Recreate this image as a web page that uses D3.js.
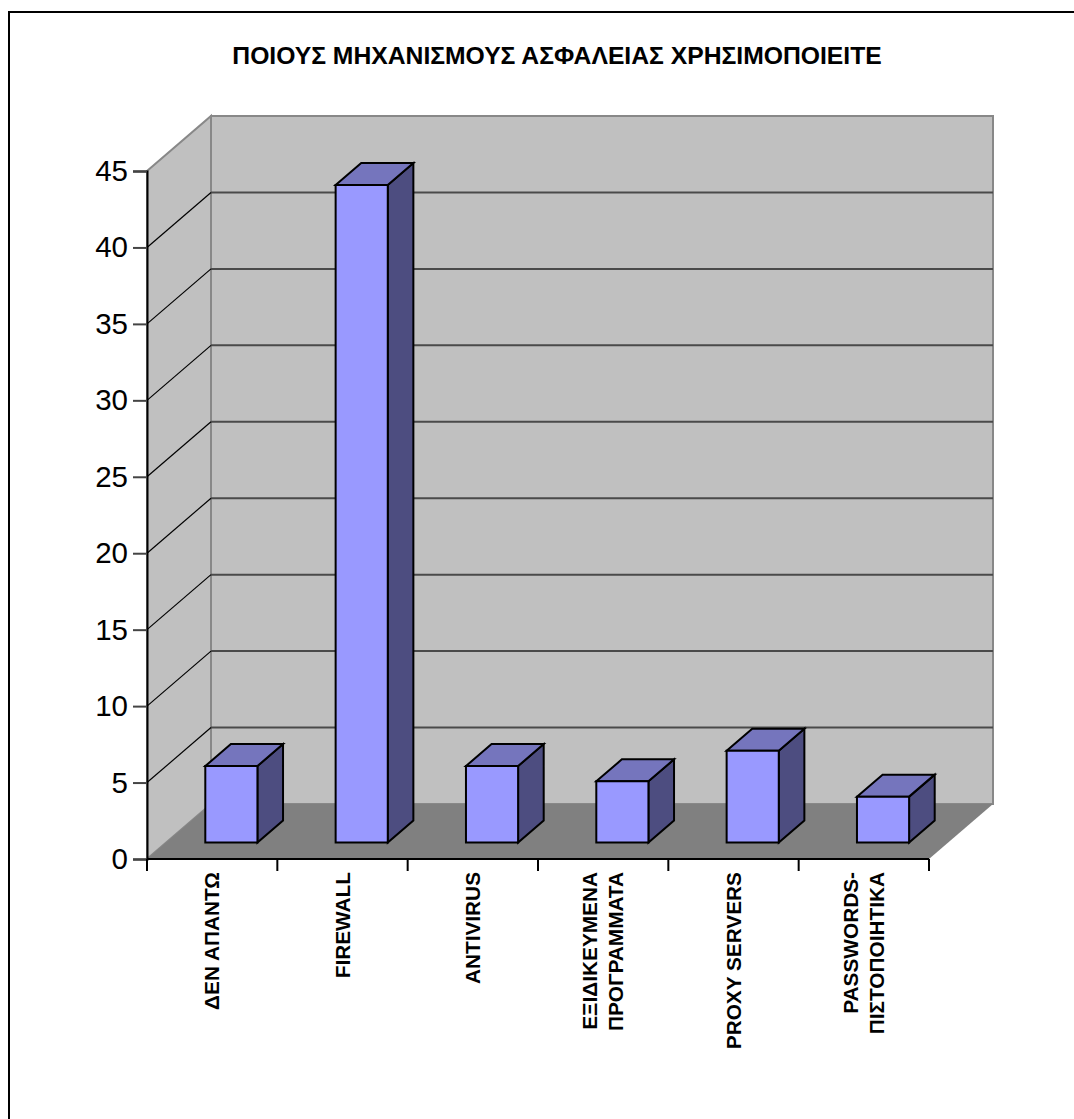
<!DOCTYPE html>
<html>
<head>
<meta charset="utf-8">
<script src="https://cdn.jsdelivr.net/npm/d3@7"></script>
<style>
  html, body { margin: 0; padding: 0; background: #ffffff; }
  svg { display: block; }
  text { font-family: "Liberation Sans", Arial, sans-serif; }
</style>
</head>
<body>
<svg id="chart" width="1074" height="1119"></svg>
<script>
// ---- data ----
const title = "ΠΟΙΟΥΣ ΜΗΧΑΝΙΣΜΟΥΣ ΑΣΦΑΛΕΙΑΣ ΧΡΗΣΙΜΟΠΟΙΕΙΤΕ";
const categories = ["ΔΕΝ ΑΠΑΝΤΩ", "FIREWALL", "ANTIVIRUS", "ΕΞΙΔΙΚΕΥΜΕΝΑ ΠΡΟΓΡΑΜΜΑΤΑ", "PROXY SERVERS", "PASSWORDS- ΠΙΣΤΟΠΟΙΗΤΙΚΑ"];
const categoryLines = [["ΔΕΝ ΑΠΑΝΤΩ"], ["FIREWALL"], ["ANTIVIRUS"], ["ΕΞΙΔΙΚΕΥΜΕΝΑ", "ΠΡΟΓΡΑΜΜΑΤΑ"], ["PROXY SERVERS"], ["PASSWORDS-", "ΠΙΣΤΟΠΟΙΗΤΙΚΑ"]];
const values = [5, 43, 5, 4, 6, 3];
const yTicks = [0, 5, 10, 15, 20, 25, 30, 35, 40, 45];

// ---- layout ----
(function () {
const svg = d3.select("#chart");
const pLeft = 147, pRight = 929, pBottom = 859, pTop = 171;
const DX = 64, DY = 55;           // depth offset of the back wall
const d0 = 0.3, d1 = 0.7;          // bar depth range

const x = d3.scaleBand().domain(categories).range([pLeft, pRight]).paddingInner(0.6).paddingOuter(0.3);
const edge = d3.scaleLinear().domain([0, categories.length]).range([pLeft, pRight]);
const y = d3.scaleLinear().domain([0, 45]).range([pBottom, pTop]);

const P = (px, py, d) => [px + DX * d, py - DY * d];
const poly = pts => pts.map(p => p.join(",")).join(" ");

// outer frame
svg.append("rect").attr("x", 9).attr("y", 12).attr("width", 1200).attr("height", 1200)
  .attr("fill", "none").attr("stroke", "#000").attr("stroke-width", 2);

// title
svg.append("text").attr("x", 557).attr("y", 64).attr("text-anchor", "middle")
  .attr("font-size", 24.7).attr("font-weight", "bold").attr("fill", "#000").text(title);

// back wall
svg.append("polygon")
  .attr("points", poly([P(pLeft, y(45), 1), P(pRight, y(45), 1), P(pRight, y(0), 1), P(pLeft, y(0), 1)]))
  .attr("fill", "#c0c0c0").attr("stroke", "#888").attr("stroke-width", 2);
// left wall
svg.append("polygon")
  .attr("points", poly([P(pLeft, y(45), 0), P(pLeft, y(45), 1), P(pLeft, y(0), 1), P(pLeft, y(0), 0)]))
  .attr("fill", "#c0c0c0").attr("stroke", "#888").attr("stroke-width", 2);

// gridlines
const inner = yTicks.filter(v => v > 0 && v < 45);
svg.append("g").selectAll("line").data(inner).join("line")
  .attr("x1", v => P(pLeft, y(v), 1)[0]).attr("y1", v => P(pLeft, y(v), 1)[1])
  .attr("x2", v => P(pRight, y(v), 1)[0]).attr("y2", v => P(pRight, y(v), 1)[1])
  .attr("stroke", "#4a4a4a").attr("stroke-width", 2);
svg.append("g").selectAll("line").data(inner).join("line")
  .attr("x1", v => P(pLeft, y(v), 0)[0]).attr("y1", v => P(pLeft, y(v), 0)[1])
  .attr("x2", v => P(pLeft, y(v), 1)[0]).attr("y2", v => P(pLeft, y(v), 1)[1])
  .attr("stroke", "#000").attr("stroke-width", 1.2);

// floor
svg.append("polygon")
  .attr("points", poly([P(pLeft, y(0), 0), P(pRight, y(0), 0), P(pRight, y(0), 1), P(pLeft, y(0), 1)]))
  .attr("fill", "#808080");

// bars
const bars = svg.append("g").selectAll("g").data(values).join("g");
bars.each(function(v, i) {
  const g = d3.select(this);
  const x0 = x(categories[i]), x1 = x0 + x.bandwidth();
  const yt = y(v), yb = y(0);
  const common = s => s.attr("stroke", "#000").attr("stroke-width", 2).attr("stroke-linejoin", "miter");
  common(g.append("polygon").attr("points", poly([P(x1, yt, d0), P(x1, yt, d1), P(x1, yb, d1), P(x1, yb, d0)])).attr("fill", "#4d4d80"));
  common(g.append("polygon").attr("points", poly([P(x0, yt, d0), P(x1, yt, d0), P(x1, yt, d1), P(x0, yt, d1)])).attr("fill", "#7575bd"));
  common(g.append("polygon").attr("points", poly([P(x0, yt, d0), P(x1, yt, d0), P(x1, yb, d0), P(x0, yb, d0)])).attr("fill", "#9999ff"));
});

// y axis
const yAxis = svg.append("g").attr("transform", `translate(${pLeft},0)`)
  .call(d3.axisLeft(y).tickValues(yTicks).tickSize(14).tickPadding(5).tickFormat(d3.format("d")));
yAxis.select(".domain").attr("stroke", "#000").attr("stroke-width", 2);
yAxis.selectAll(".tick line").attr("stroke", "#444").attr("stroke-width", 2);
yAxis.selectAll(".tick text").attr("font-size", 29.5).attr("fill", "#000")
  .attr("font-family", "'Liberation Sans', Arial, sans-serif");

// x axis line + ticks
svg.append("line").attr("x1", pLeft).attr("x2", pRight).attr("y1", pBottom).attr("y2", pBottom)
  .attr("stroke", "#000").attr("stroke-width", 2);
svg.append("g").selectAll("line").data(d3.range(categories.length + 1)).join("line")
  .attr("x1", i => edge(i)).attr("x2", i => edge(i)).attr("y1", pBottom).attr("y2", pBottom + 12)
  .attr("stroke", "#000").attr("stroke-width", 2);

// x labels
const lineGap = 26;
svg.append("g").selectAll("text").data(categories).join("text")
  .attr("transform", d => `translate(${x(d) + x.bandwidth() / 2},${pBottom + 13}) rotate(-90)`)
  .attr("text-anchor", "end").attr("font-size", 20.8).attr("font-weight", "bold").attr("fill", "#000")
  .each(function(d, i) {
    const lines = categoryLines[i];
    const n = lines.length;
    d3.select(this).selectAll("tspan").data(lines).join("tspan")
      .attr("x", 0).attr("y", (l, j) => (j - (n - 1) / 2) * lineGap)
      .attr("dy", "0.35em").text(l => l);
  });
})();
</script>
</body>
</html>
